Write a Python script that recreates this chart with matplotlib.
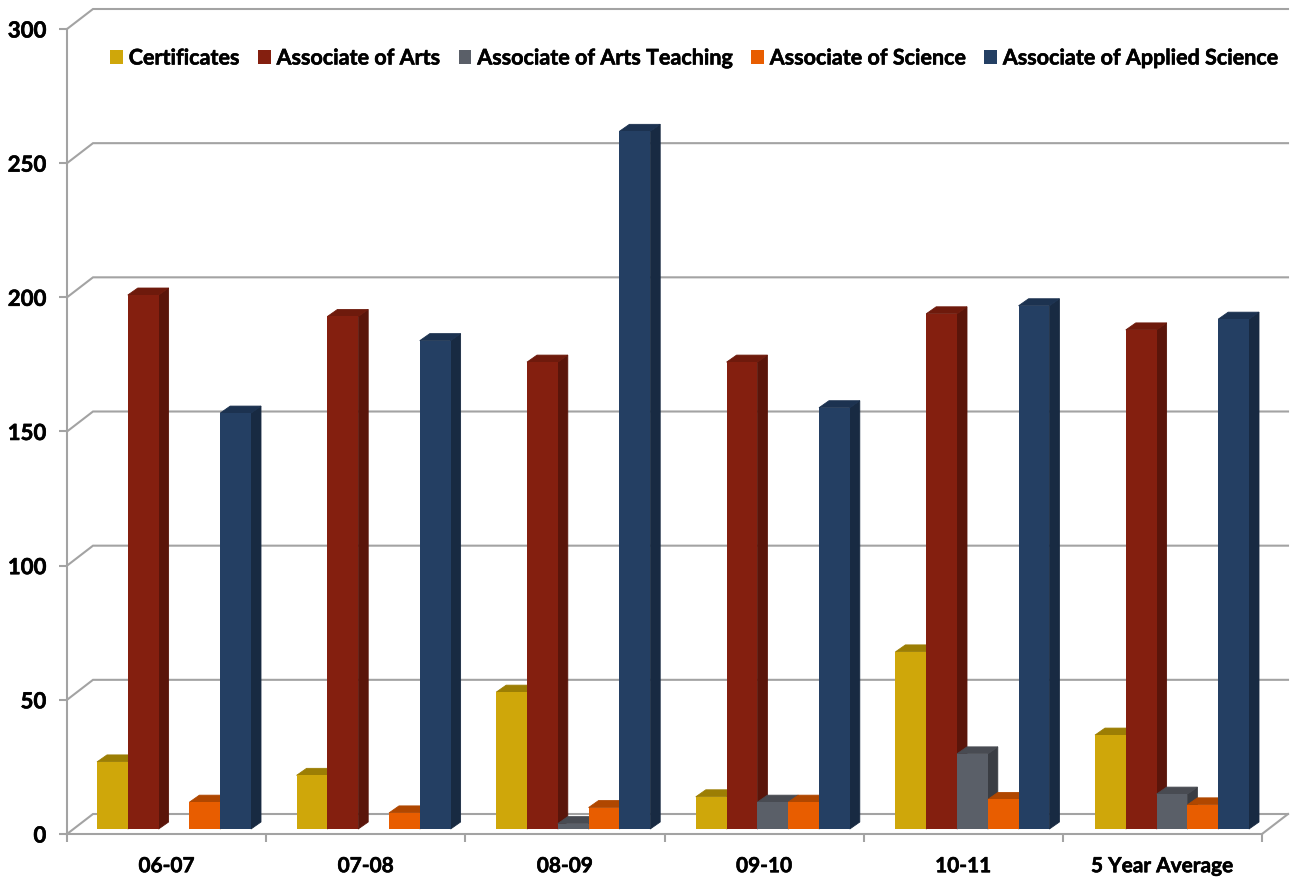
import matplotlib
matplotlib.use('Agg')
import matplotlib.pyplot as plt
import matplotlib.patheffects as pe
from matplotlib.patches import Polygon, Patch

plt.rcParams['font.family'] = ['Lato', 'DejaVu Sans']
plt.rcParams['font.weight'] = 'bold'

years = ['06-07', '07-08', '08-09', '09-10', '10-11', '5 Year Average']
certificates = [25, 20, 51, 12, 66, 35]
assoc_arts = [199, 191, 174, 174, 192, 186]
assoc_arts_teaching = [0, 0, 2, 10, 28, 13]
assoc_science = [10, 6, 8, 10, 11, 9]
assoc_applied = [155, 182, 260, 157, 195, 190]

series_names = ['Certificates', 'Associate of Arts', 'Associate of Arts Teaching',
                'Associate of Science', 'Associate of Applied Science']
series_values = [certificates, assoc_arts, assoc_arts_teaching, assoc_science, assoc_applied]
front_colors = ['#CFA70A', '#841F0F', '#5A5F68', '#E85D00', '#243F63']
side_colors = ['#7A6306', '#5A150A', '#3A3D43', '#8F3A00', '#182A42']
top_colors = ['#9C7E04', '#6E1A0C', '#484B52', '#B04700', '#1C3250']
line_color = '#A3A3A3'

W, H = 1291, 877
fig = plt.figure(figsize=(W / 100, H / 100), dpi=100)
ax = fig.add_axes([67 / W, 1 - 834 / H, (1262 - 67) / W, (834 - 29) / H])
ax.set_xlim(0, 6)
ax.set_ylim(0, 300)

px_x = 6 / (1262 - 67)
px_y = 300 / (834 - 29)
wall_x, wall_y = 26 * px_x, 20 * px_y
depth_x, depth_y = 10 * px_x, 7 * px_y
floor = 5 * px_y
bar_w = 30.8 * px_x
start = 30 * px_x
group_step = 199.6 * px_x

# back wall gridlines and the slanted lines running to the axis
for v in range(0, 301, 50):
    ax.plot([0, wall_x, 6 + wall_x], [v, v + wall_y, v + wall_y], color=line_color,
            lw=1.5, clip_on=False, zorder=1, solid_joinstyle='miter')
ax.plot([6, 6 + wall_x], [0, wall_y], color=line_color, lw=1.5, clip_on=False, zorder=1)

z = 3
for g in range(len(years)):
    for s, values in enumerate(series_values):
        v = values[g]
        if v == 0:
            continue
        x0 = g * group_step + start + s * bar_w
        x1 = x0 + bar_w
        top = floor + v
        ax.add_patch(Polygon([(x1, floor), (x1 + depth_x, floor + depth_y),
                              (x1 + depth_x, top + depth_y), (x1, top)],
                             facecolor=side_colors[s], edgecolor=side_colors[s], lw=0.6,
                             clip_on=False, zorder=z))
        ax.add_patch(Polygon([(x0, top), (x0 + depth_x, top + depth_y),
                              (x1 + depth_x, top + depth_y), (x1, top)],
                             facecolor=top_colors[s], edgecolor=top_colors[s], lw=0.6,
                             clip_on=False, zorder=z))
        ax.bar(x0, v, width=bar_w, bottom=floor, align='edge', color=front_colors[s],
               clip_on=False, zorder=z + 0.5)
        z += 1

for side in ['top', 'right']:
    ax.spines[side].set_visible(False)
for side in ['left', 'bottom']:
    ax.spines[side].set_color(line_color)
    ax.spines[side].set_linewidth(1.5)
    ax.spines[side].set_zorder(2)

ax.set_yticks(range(0, 301, 50))
ax.set_xticks(range(7))
ax.set_xticklabels([])
ax.set_xticks([i + 0.5 for i in range(6)], minor=True)
ax.set_xticklabels(years, minor=True)
ax.tick_params(axis='x', which='major', length=5.5, width=1.5, color=line_color)
ax.tick_params(axis='x', which='minor', length=0, pad=16, labelsize=15, labelcolor='#000000')
ax.tick_params(axis='y', length=5.5, width=1.5, color=line_color, pad=9.5, labelsize=16,
               labelcolor='#000000')

handles = [Patch(facecolor=c, edgecolor='none', label=n) for c, n in zip(front_colors, series_names)]
legend = ax.legend(handles=handles, ncol=5, frameon=False, fontsize=15.5, loc='center left',
                   bbox_to_anchor=((110 - 67) / (1262 - 67), (834 - 58) / (834 - 29)),
                   handlelength=0.6, handleheight=0.6, handletextpad=0.27, columnspacing=0.87,
                   borderpad=0, borderaxespad=0, labelcolor='#000000')

# slightly heavier text, the original's bold is thicker than Lato's
stroke = [pe.withStroke(linewidth=0.4, foreground='#000000')]
for t in ax.get_xticklabels(minor=True) + ax.get_yticklabels() + legend.get_texts():
    t.set_path_effects(stroke)

fig.savefig('out.png', dpi=100)
